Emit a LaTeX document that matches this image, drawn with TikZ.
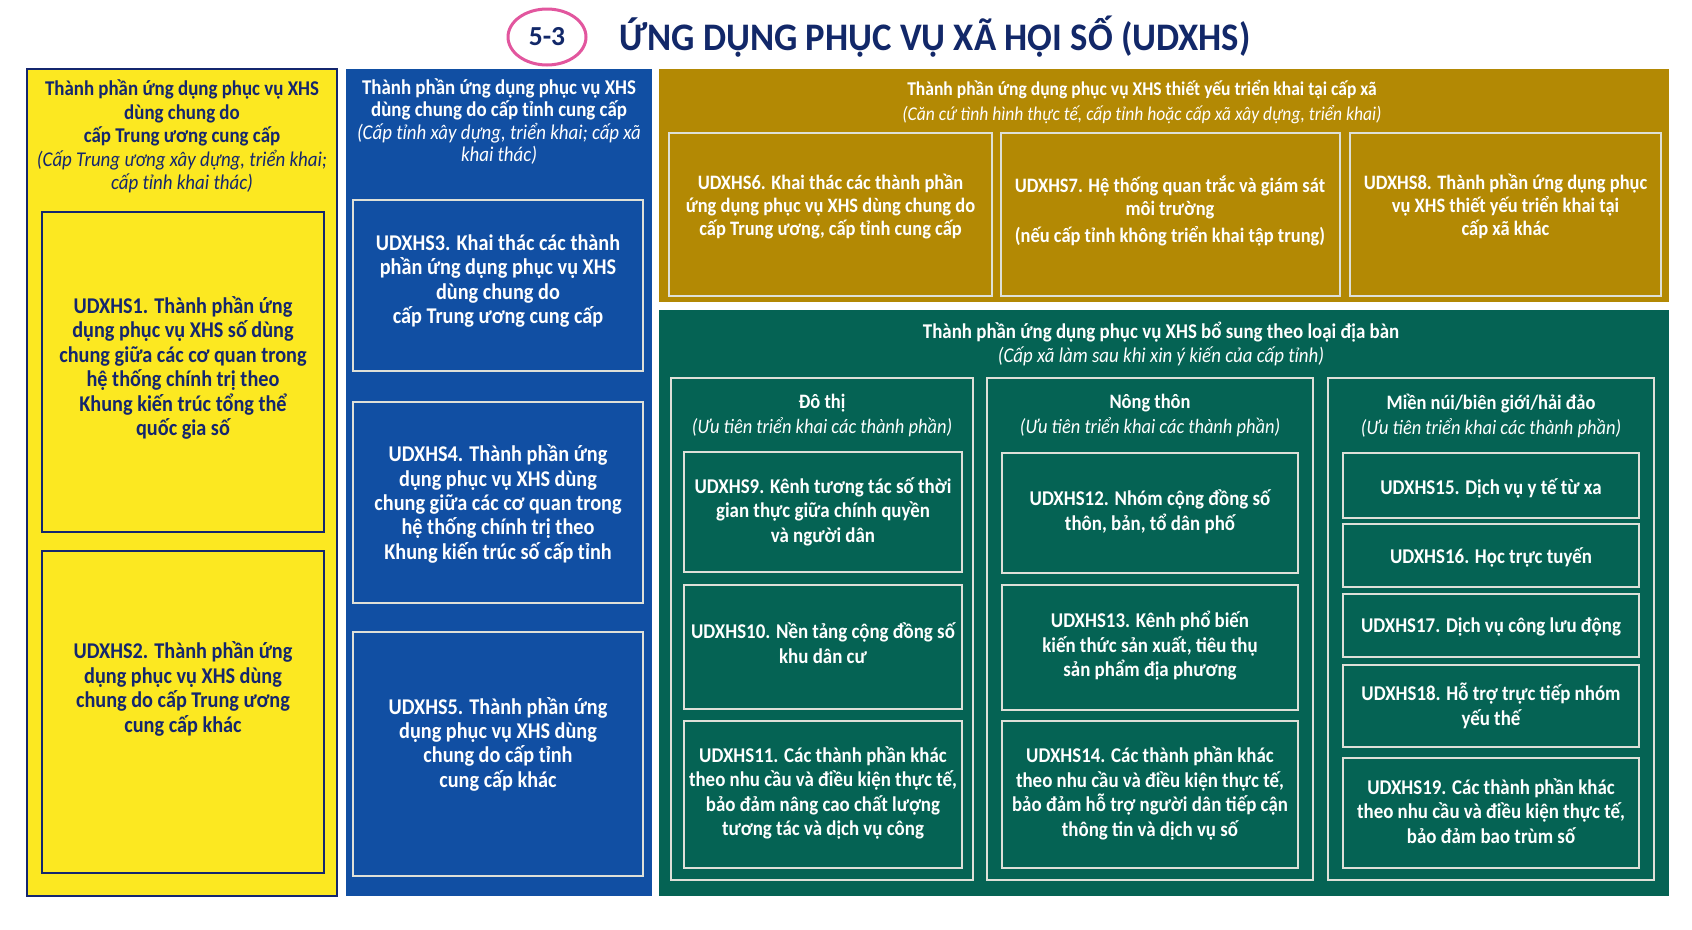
\documentclass[tikz,border=0pt]{standalone}
\usepackage{fontspec}
\setmainfont{Carlito}[FakeStretch=0.9]
\newfontfamily\titlefont{Carlito}[FakeStretch=0.94]
\newfontfamily\numfont{Carlito}
\definecolor{navy}{RGB}{20,38,110}
\definecolor{ylw}{RGB}{252,232,33}
\definecolor{blu}{RGB}{17,79,163}
\definecolor{gld}{RGB}{179,137,4}
\definecolor{grn}{RGB}{5,99,84}
\definecolor{lin}{RGB}{222,224,216}
\definecolor{pnk}{RGB}{226,86,158}
\definecolor{ttl}{RGB}{18,40,105}
\tikzset{
  ibox/.style={draw=lin, line width=2.3pt},
  ybx/.style={draw=navy, line width=2pt},
  base/.style={align=center, inner sep=0pt},
  yhd/.style={base, text=navy, font=\fontsize{21}{23.5}\selectfont\bfseries},
  ytx/.style={base, text=navy, font=\fontsize{22.5}{24.5}\selectfont\bfseries},
  bhd/.style={base, text=white, font=\fontsize{21}{22.5}\selectfont\bfseries},
  btx/.style={base, text=white, font=\fontsize{22.5}{24.3}\selectfont\bfseries},
  ghd/.style={base, text=white, font=\fontsize{19.5}{25}\selectfont\bfseries},
  gtx/.style={base, text=white, font=\fontsize{20.5}{22.7}\selectfont\bfseries},
  nhd/.style={base, text=white, font=\fontsize{21}{24}\selectfont\bfseries},
  chd/.style={base, text=white, font=\fontsize{20.5}{25}\selectfont\bfseries},
  ntx/.style={base, text=white, font=\fontsize{21}{24.5}\selectfont\bfseries},
}
\newcommand{\itl}[1]{{\mdseries\itshape #1}}
\begin{document}
\begin{tikzpicture}[x=1pt,y=-1pt]
\fill[white] (0,0) rectangle (1692,929);
\useasboundingbox (0,0) rectangle (1692,929);
% title
\draw[pnk, line width=3pt] (547,37) ellipse [x radius=39, y radius=28];
\node[base, text=ttl, font=\numfont\fontsize{27.5}{30}\selectfont\bfseries] (num) at (547,37) {5-3};
\node[base, anchor=base, text=ttl, font=\titlefont\fontsize{39}{42}\selectfont\bfseries] (title) at (935,50) {ỨNG DỤNG PHỤC VỤ XÃ HỘI SỐ (UDXHS)};
% outer panels
\fill[ylw] (27,69) rectangle (337,896);
\draw[ybx] (27,69) rectangle (337,896);
\fill[blu] (346,69) rectangle (652,896);
\fill[gld] (659,69) rectangle (1669,302);
\fill[grn] (659,310) rectangle (1669,896);
% yellow
\draw[ybx] (42,212) rectangle (324,532);
\draw[ybx] (42,551) rectangle (324,873);
\node[yhd] (yh) at (182,136.5) {Thành phần ứng dụng phục vụ XHS\\dùng chung do\\cấp Trung ương cung cấp\\\itl{(Cấp Trung ương xây dựng, triển khai;}\\\itl{cấp tỉnh khai thác)}};
\node[ytx] (y1) at (183,368) {UDXHS1. Thành phần ứng\\dụng phục vụ XHS số dùng\\chung giữa các cơ quan trong\\hệ thống chính trị theo\\Khung kiến trúc tổng thể\\quốc gia số};
\node[ytx] (y2) at (183,689) {UDXHS2. Thành phần ứng\\dụng phục vụ XHS dùng\\chung do cấp Trung ương\\cung cấp khác};
% blue
\draw[ibox] (353,200) rectangle (643,371);
\draw[ibox] (353,402) rectangle (643,603);
\draw[ibox] (353,632) rectangle (643,876);
\node[bhd] (bh) at (499,121.5) {Thành phần ứng dụng phục vụ XHS\\dùng chung do cấp tỉnh cung cấp\\\itl{(Cấp tỉnh xây dựng, triển khai; cấp xã}\\\itl{khai thác)}};
\node[btx] (b3) at (498,281) {UDXHS3. Khai thác các thành\\phần ứng dụng phục vụ XHS\\dùng chung do\\cấp Trung ương cung cấp};
\node[btx] (b4) at (498,504) {UDXHS4. Thành phần ứng\\dụng phục vụ XHS dùng\\chung giữa các cơ quan trong\\hệ thống chính trị theo\\Khung kiến trúc số cấp tỉnh};
\node[btx] (b5) at (498,744) {UDXHS5. Thành phần ứng\\dụng phục vụ XHS dùng\\chung do cấp tỉnh\\cung cấp khác};
% gold
\draw[ibox] (669,133) rectangle (992,296);
\draw[ibox] (1001,133) rectangle (1340,296);
\draw[ibox] (1350,133) rectangle (1661,296);
\node[ghd] (gh) at (1142,102.5) {Thành phần ứng dụng phục vụ XHS thiết yếu triển khai tại cấp xã\\\itl{(Căn cứ tình hình thực tế, cấp tỉnh hoặc cấp xã xây dựng, triển khai)}};
\node[gtx] (g6) at (830.5,206.5) {UDXHS6. Khai thác các thành phần\\ứng dụng phục vụ XHS dùng chung do\\cấp Trung ương, cấp tỉnh cung cấp};
\node[gtx] (g7) at (1170,211) {UDXHS7. Hệ thống quan trắc và giám sát\\môi trường\\[4pt](nếu cấp tỉnh không triển khai tập trung)};
\node[gtx] (g8) at (1505.5,206.5) {UDXHS8. Thành phần ứng dụng phục\\vụ XHS thiết yếu triển khai tại\\cấp xã khác};
% green
\node[nhd] (nh) at (1161,344) {Thành phần ứng dụng phục vụ XHS bổ sung theo loại địa bàn\\\itl{(Cấp xã làm sau khi xin ý kiến của cấp tỉnh)}};
\draw[ibox] (671,378) rectangle (973,880);
\draw[ibox] (987,378) rectangle (1313,880);
\draw[ibox] (1328,378) rectangle (1654,880);
\node[chd] (c1) at (822,415.5) {Đô thị\\\itl{(Ưu tiên triển khai các thành phần)}};
\node[chd] (c2) at (1150,415.5) {Nông thôn\\\itl{(Ưu tiên triển khai các thành phần)}};
\node[chd] (c3) at (1491,415.5) {Miền núi/biên giới/hải đảo\\\itl{(Ưu tiên triển khai các thành phần)}};
% do thi
\draw[ibox] (684,452) rectangle (962,572);
\draw[ibox] (684,585) rectangle (962,709);
\draw[ibox] (684,721) rectangle (962,868);
\node[ntx] (n9) at (823,511.5) {UDXHS9. Kênh tương tác số thời\\gian thực giữa chính quyền\\và người dân};
\node[ntx] (n10) at (823,643) {UDXHS10. Nền tảng cộng đồng số\\khu dân cư};
\node[ntx] (n11) at (823,793) {UDXHS11. Các thành phần khác\\theo nhu cầu và điều kiện thực tế,\\bảo đảm nâng cao chất lượng\\tương tác và dịch vụ công};
% nong thon
\draw[ibox] (1002,453) rectangle (1298,573);
\draw[ibox] (1002,585) rectangle (1298,710);
\draw[ibox] (1002,721) rectangle (1298,868);
\node[ntx] (n12) at (1150,511.5) {UDXHS12. Nhóm cộng đồng số\\thôn, bản, tổ dân phố};
\node[ntx] (n13) at (1150,646) {UDXHS13. Kênh phổ biến\\kiến thức sản xuất, tiêu thụ\\sản phẩm địa phương};
\node[ntx] (n14) at (1150,793.5) {UDXHS14. Các thành phần khác\\theo nhu cầu và điều kiện thực tế,\\bảo đảm hỗ trợ người dân tiếp cận\\thông tin và dịch vụ số};
% mien nui
\draw[ibox] (1343,453) rectangle (1639,518);
\draw[ibox] (1343,524) rectangle (1639,587);
\draw[ibox] (1343,594) rectangle (1639,657);
\draw[ibox] (1343,665) rectangle (1639,747);
\draw[ibox] (1343,758) rectangle (1639,868);
\node[ntx] (n15) at (1491,488) {UDXHS15. Dịch vụ y tế từ xa};
\node[ntx] (n16) at (1491,557) {UDXHS16. Học trực tuyến};
\node[ntx] (n17) at (1491,627) {UDXHS17. Dịch vụ công lưu động};
\node[ntx] (n18) at (1491,706) {UDXHS18. Hỗ trợ trực tiếp nhóm\\yếu thế};
\node[ntx] (n19) at (1491,811) {UDXHS19. Các thành phần khác\\theo nhu cầu và điều kiện thực tế,\\bảo đảm bao trùm số};
\end{tikzpicture}
\end{document}
